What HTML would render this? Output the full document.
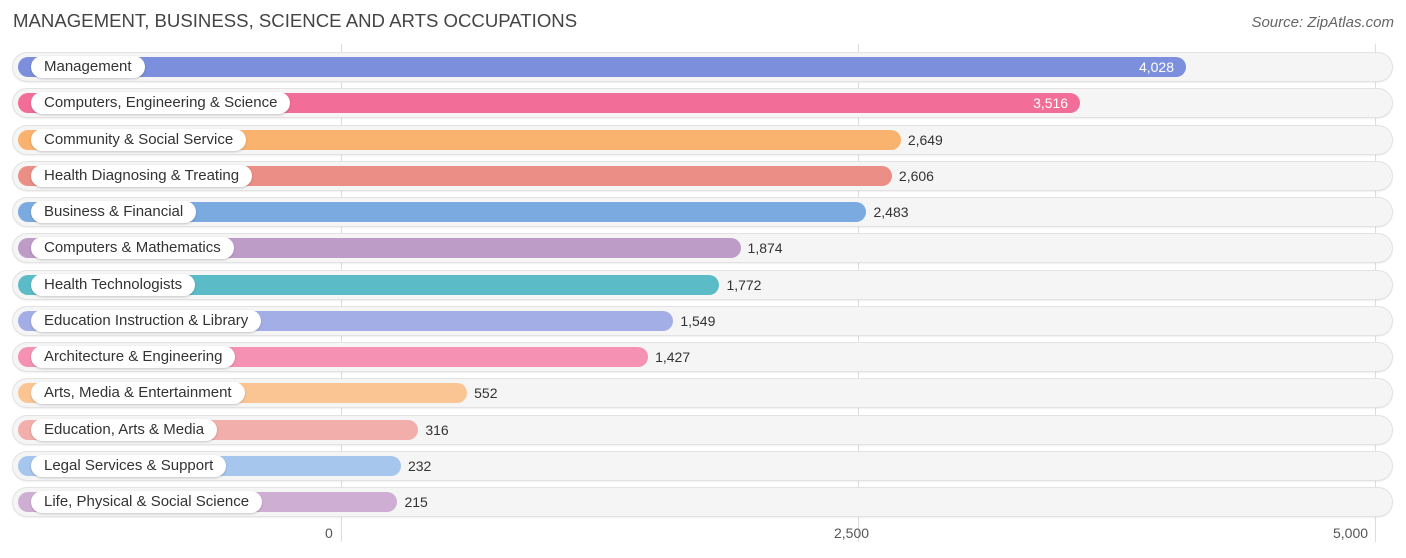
<!DOCTYPE html>
<html><head><meta charset="utf-8"><style>
body{margin:0;width:1406px;height:558px;background:#fff;font-family:"Liberation Sans",sans-serif;overflow:hidden;position:relative}
.title{position:absolute;left:13px;top:10px;font-size:18.6px;color:#444}
.src{position:absolute;right:12px;top:14px;font-size:15px;font-style:italic;color:#666}
.grid{position:absolute;top:44px;height:498px;width:1px;background:#ddd}
.tick{position:absolute;top:525px;font-size:14px;color:#555}
.bg{position:absolute;left:13px;width:1379px;height:28px;border-radius:14px;background:#f5f5f5;box-shadow:0 0 0 1px #e2e2e2,0 1px 2px rgba(0,0,0,.15)}
.bar{position:absolute;left:18px;height:20px;border-radius:10px}
.lab{position:absolute;left:31px;height:22px;line-height:22px;padding:0 13px;border-radius:11px;background:#fff;font-size:15px;color:#333;box-shadow:0 1px 2px rgba(0,0,0,.2)}
.val{position:absolute;font-size:14px;line-height:20px}
</style></head><body>
<div class="title">MANAGEMENT, BUSINESS, SCIENCE AND ARTS OCCUPATIONS</div>
<div class="src">Source: ZipAtlas.com</div>
<div id="chart"></div>
<script>
const categories=["Management","Computers, Engineering & Science","Community & Social Service","Health Diagnosing & Treating","Business & Financial","Computers & Mathematics","Health Technologists","Education Instruction & Library","Architecture & Engineering","Arts, Media & Entertainment","Education, Arts & Media","Legal Services & Support","Life, Physical & Social Science"];
const values=[4028,3516,2649,2606,2483,1874,1772,1549,1427,552,316,232,215];
const colors=["#7b8fdc","#f26d98","#f9b36f","#eb8e86","#7aaae0","#be9cc8","#5bbcc8","#a3aee6","#f591b2","#fbc593","#f2aeab","#a6c6ee","#cfaed3"];
const ticks=[0,2500,5000];
const tickLabels=["0","2,500","5,000"];
const x0=341,scale=517/2500;
const x=v=>x0+v*scale;
const c=document.getElementById('chart');
ticks.forEach((t,i)=>{
 const g=document.createElement('div');g.className='grid';g.style.left=x(t)+'px';
 
 
 c.appendChild(g);
});
categories.forEach((cat,i)=>{
 const cy=67+i*36.25;
 const bg=document.createElement('div');bg.className='bg';bg.style.top=(cy-14)+'px';
 
 
 c.appendChild(bg);
 const b=document.createElement('div');b.className='bar';b.style.top=(cy-10)+'px';
 b.style.width=(x(values[i])+12-18)+'px';b.style.background=colors[i];
 
 
 c.appendChild(b);
 const l=document.createElement('div');l.className='lab';l.style.top=(cy-11)+'px';l.textContent=cat;
 
 
 c.appendChild(l);
 const v=document.createElement('div');v.className='val';v.style.top=(cy-10)+'px';
 v.textContent=values[i].toLocaleString('en-US');
 
 
 if(values[i]>3000){v.style.color='#fff';v.style.right=(1406-(x(values[i])+12)+12)+'px';}
 else{v.style.color='#333';v.style.left=(x(values[i])+12+7)+'px';}
 c.appendChild(v);
});
const tickOffsets=[-16,-24,-42];
ticks.forEach((t,i)=>{
 const d=document.createElement('div');d.className='tick';
 d.style.left=(x(t)+tickOffsets[i])+'px';d.textContent=tickLabels[i];
 
 
 c.appendChild(d);
});
</script>
</body></html>
